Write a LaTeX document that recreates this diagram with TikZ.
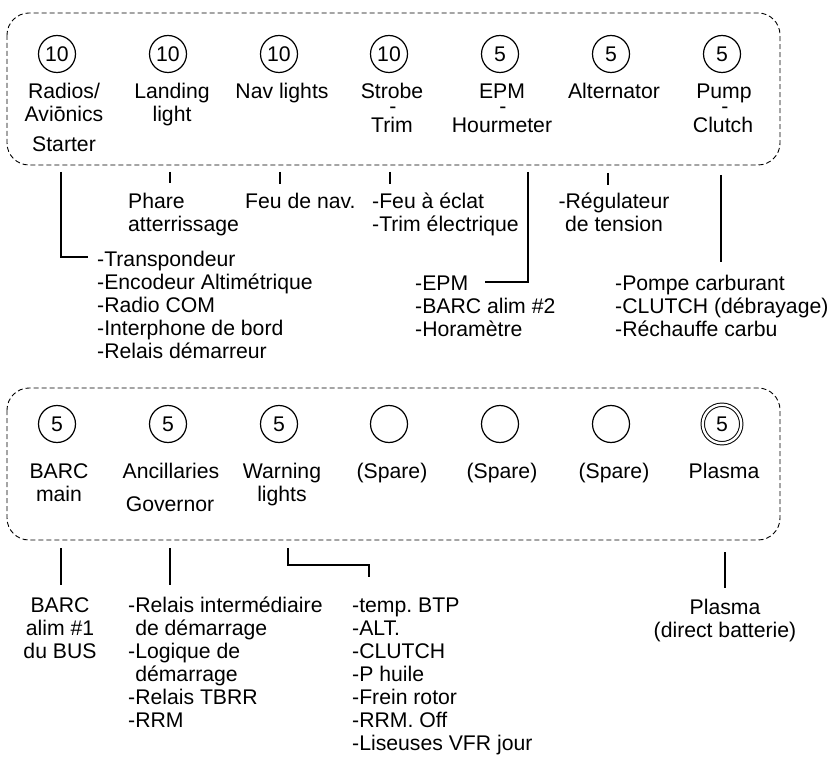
\documentclass[tikz,border=0pt]{standalone}
\usepackage{fontspec}
\setmainfont{Liberation Sans}
\newcommand{\lblfont}{\fontsize{21.2}{23}\selectfont}
\frenchspacing
\tikzset{
  fusebox/.style={
    draw,
    line width=0.9pt,
    dash pattern=on 5pt off 3pt,
    rounded corners=22pt,
  },
  fuse/.style={
    draw,
    circle,
    line width=1.2pt,
    minimum size=37pt,
    inner sep=0pt,
    font=\lblfont,
  },
  mainfuse/.style={
    fuse,
    line width=1pt,
    double,
    double distance=2.4pt,
    minimum size=38.5pt,
  },
  lbl/.style={
    font=\lblfont,
    inner sep=0pt,
    anchor=north,
    align=center,
  },
  lbll/.style={
    lbl,
    anchor=north west,
    align=left,
  },
  dashmark/.style={
    font=\lblfont,
    inner sep=0pt,
    anchor=base,
  },
  wire/.style={
    line width=1.1pt,
  }
}
\newcommand{\fuse}[4]{%
  \node[fuse] (#1) at (#2,#3) {#4};
}

\begin{document}
\begin{tikzpicture}[x=1pt,y=-1pt]
\useasboundingbox (0,0) rectangle (833,762);

\draw[fusebox] (7,13) rectangle (780,165);

\fuse{fRadio}{57}{54}{10}
\fuse{fLanding}{168}{54}{10}
\fuse{fNav}{279}{54}{10}
\fuse{fStrobe}{389}{54}{10}
\fuse{fEPM}{500}{54}{5}
\fuse{fAlt}{611}{54}{5}
\fuse{fPump}{722}{54}{5}

\node[lbl] (lRadio) at (64,82) {\strut Radios/\\Avionics};
\node[dashmark] (dRadio) at (59,114) {-};
\node[lbl] (lStarter) at (64,135) {\strut Starter};
\node[lbl] (lLanding) at (172,82) {\strut Landing\\light};
\node[lbl] (lNav) at (282,82) {\strut Nav lights};
\node[lbl] (lStrobe) at (392,82) {\strut Strobe};
\node[dashmark] (dStrobe) at (393,114) {-};
\node[lbl] (lTrim) at (392,116) {\strut Trim};
\node[lbl] (lEPM) at (502,82) {\strut EPM};
\node[dashmark] (dEPM) at (503,114) {-};
\node[lbl] (lHour) at (502,116) {\strut Hourmeter};
\node[lbl] (lAlt) at (614,82) {\strut Alternator};
\node[lbl] (lPump) at (724,82) {\strut Pump};
\node[dashmark] (dPump) at (725,114) {-};
\node[lbl] (lClutch) at (723,116) {\strut Clutch};

\node[lbll] (uRadio) at (97,250)
  {\strut -Transpondeur\\-Encodeur Altimétrique\\-Radio COM\\-Interphone de bord\\-Relais démarreur};
\node[lbll] (uLanding) at (128,192) {\strut Phare\\atterrissage};
\node[lbll] (uNav) at (245,192) {\strut Feu de nav.};
\node[lbll] (uStrobe) at (372,192) {\strut -Feu à éclat\\-Trim électrique};
\node[lbll] (uEPM) at (415,274) {\strut -EPM\\-BARC alim \#2\\-Horamètre};
\node[lbl] (uAlt) at (614,192) {\strut -Régulateur\\de tension};
\node[lbll] (uPump) at (615,274)
  {\strut -Pompe carburant\\-CLUTCH (débrayage)\\-Réchauffe carbu};

\coordinate (tRadio) at (61,172);
\coordinate (eRadio) at (88,257);
\coordinate (tLanding) at (170,172);
\coordinate (eLanding) at (170,183);
\coordinate (tNav) at (280,172);
\coordinate (eNav) at (280,184);
\coordinate (tStrobe) at (390,172);
\coordinate (eStrobe) at (390,184);
\coordinate (tEPM) at (528,172);
\coordinate (eEPM) at (485,282);
\coordinate (tAlt) at (608,173);
\coordinate (eAlt) at (608,185);
\coordinate (tPump) at (721,175);
\coordinate (ePump) at (721,262);

\draw[wire] (tRadio) |- (eRadio);
\draw[wire] (tLanding) -- (eLanding);
\draw[wire] (tNav) -- (eNav);
\draw[wire] (tStrobe) -- (eStrobe);
\draw[wire] (tEPM) |- (eEPM);
\draw[wire] (tAlt) -- (eAlt);
\draw[wire] (tPump) -- (ePump);

\draw[fusebox] (7,388) rectangle (780,540);

\fuse{bBarc}{57}{424}{5}
\fuse{bAnc}{168}{424}{5}
\fuse{bWarn}{279}{424}{5}
\fuse{bSpareA}{389}{424}{}
\fuse{bSpareB}{500}{424}{}
\fuse{bSpareC}{611}{424}{}
\node[mainfuse] (bPlasma) at (722,424) {5};

\node[lbl] (lBarc) at (59,462) {\strut BARC\\main};
\node[lbl] (lAnc) at (171,462) {\strut Ancillaries};
\node[lbl] (lGov) at (170,495) {\strut Governor};
\node[lbl] (lWarn) at (282,462) {\strut Warning\\lights};
\node[lbl] (lSpareA) at (392,462) {\strut (Spare)};
\node[lbl] (lSpareB) at (502,462) {\strut (Spare)};
\node[lbl] (lSpareC) at (614,462) {\strut (Spare)};
\node[lbl] (lPlasma) at (724,462) {\strut Plasma};

\node[lbl] (uBarc) at (60,596) {\strut BARC\\alim \#1\\du BUS};
\node[lbll] (uAnc) at (128,596)
  {\strut -Relais intermédiaire\\\hphantom{-}de démarrage\\-Logique de\\\hphantom{-}démarrage\\-Relais TBRR\\-RRM};
\node[lbll] (uWarn) at (352,596)
  {\strut -temp. BTP\\-ALT.\\-CLUTCH\\-P huile\\-Frein rotor\\-RRM. Off\\-Liseuses VFR jour};
\node[lbl] (uPlasma) at (725,598) {\strut Plasma\\(direct batterie)};

\coordinate (tBarc) at (61,548);
\coordinate (eBarc) at (61,585);
\coordinate (tAnc) at (170,548);
\coordinate (eAnc) at (170,585);
\coordinate (tWarn) at (288,548);
\coordinate (kWarn) at (369,565);
\coordinate (eWarn) at (369,577);
\coordinate (tPlasma) at (725,552);
\coordinate (ePlasma) at (725,588);

\draw[wire] (tBarc) -- (eBarc);
\draw[wire] (tAnc) -- (eAnc);
\draw[wire] (tWarn) |- (kWarn) -- (eWarn);
\draw[wire] (tPlasma) -- (ePlasma);

\end{tikzpicture}
\end{document}
